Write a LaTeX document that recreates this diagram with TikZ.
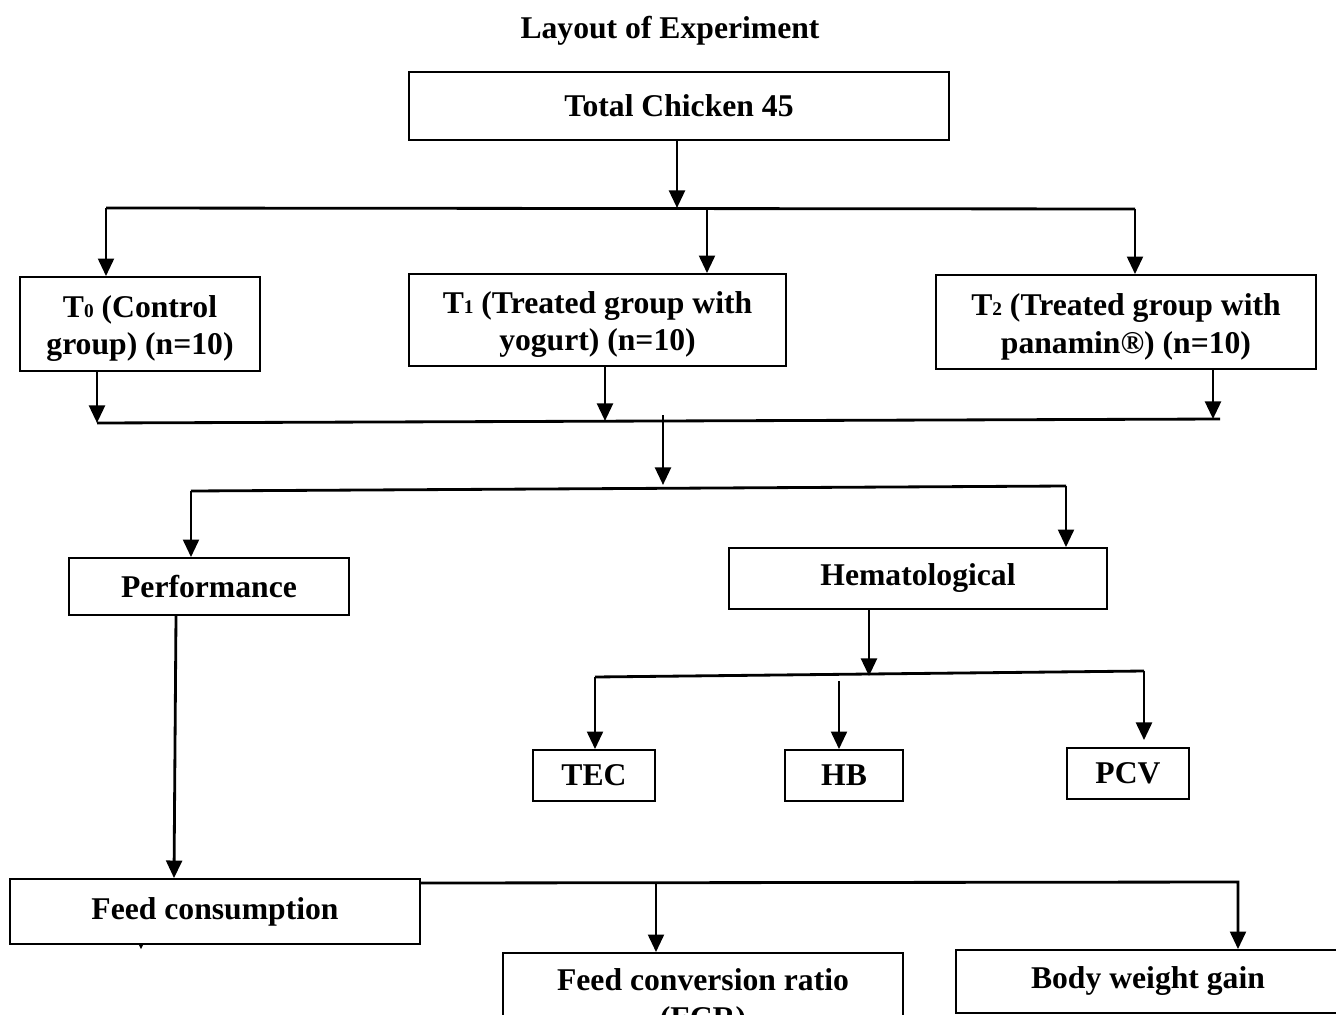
\documentclass[tikz,border=0pt]{standalone}
\usepackage{fontspec}
\setmainfont{Liberation Serif}
\usetikzlibrary{arrows.meta}
\newcommand{\sbs}[1]{{\fontsize{5.5}{6}\selectfont #1}}
\begin{document}
\begin{tikzpicture}[x=0.01cm,y=-0.01cm,
 txt/.style={inner sep=0pt,align=center,font=\fontsize{9}{10.6}\selectfont\bfseries},
 box/.style={txt,draw,line width=0.5pt},
 conn/.style={line width=0.8pt},
 arr/.style={conn,-{Triangle[length=5pt,width=4.5pt]}}]
\useasboundingbox (0,0) rectangle (1336,1015);
\clip (0,0) rectangle (1336,1015);

% title
\node[txt] (title) at (670,31) {Layout of Experiment};

% boxes
\node[box,minimum width=5.40cm,minimum height=0.68cm] (total) at (679,106) {Total Chicken 45};
\node[box,minimum width=2.40cm,minimum height=0.94cm] (t0) at (140,324) {\rule{0pt}{9pt}T\sbs{0} (Control\\group) (n=10)};
\node[box,minimum width=3.77cm,minimum height=0.92cm] (t1) at (597.5,320) {\rule{0pt}{9pt}T\sbs{1} (Treated group with\\yogurt) (n=10)};
\node[box,minimum width=3.80cm,minimum height=0.94cm] (t2) at (1126,322) {\rule{0pt}{9pt}T\sbs{2} (Treated group with\\panamin®) (n=10)};
\node[box,minimum width=2.80cm,minimum height=0.57cm] (perf) at (209,586.5) {Performance};
\node[box,minimum width=3.78cm,minimum height=0.61cm] (hem) at (918,578.5) {Hematological};
\node[box,minimum width=1.22cm,minimum height=0.51cm] (tec) at (594,775.5) {TEC};
\node[box,minimum width=1.18cm,minimum height=0.51cm] (hb) at (844,775.5) {HB};
\node[box,minimum width=1.22cm,minimum height=0.51cm] (pcv) at (1128,773.5) {PCV};
\node[box,minimum width=4.10cm,minimum height=0.65cm] (feed) at (215,911.5) {Feed consumption};
\node[box,minimum width=4.00cm,minimum height=0.98cm] (fcr) at (703,1002) {Feed conversion ratio\\(FCR)};
\node[box,minimum width=3.84cm,minimum height=0.63cm] (bwg) at (1148,981.5) {Body weight gain};

% junction coordinates
\coordinate (h1L) at (106,208);
\coordinate (h1M) at (677,208);
\coordinate (h1B) at (707,208);
\coordinate (h1R) at (1135,209);
\coordinate (h2L) at (97,423);
\coordinate (h2B) at (605,421);
\coordinate (h2C) at (1213,419);
\coordinate (h2R) at (1220,419);
\coordinate (h2M) at (663,415);
\coordinate (h2T) at (663,485);
\coordinate (h3L) at (191,491);
\coordinate (h3R) at (1066,486);
\coordinate (h4M) at (869,676);
\coordinate (h4L) at (595,677);
\coordinate (h4B) at (839,681);
\coordinate (h4R) at (1144,671);
\coordinate (h5M) at (656,883);
\coordinate (h5R) at (1238,882);

% level 1
\draw[arr] (677,0 |- total.south) -- (h1M);
\draw[conn] (h1L) -- (h1R);
\draw[arr] (h1L) -- (h1L |- t0.north);
\draw[arr] (h1B) -- (h1B |- t1.north);
\draw[arr] (h1R) -- (h1R |- t2.north);

% level 2
\draw[arr] (h2L |- t0.south) -- (h2L);
\draw[arr] (h2B |- t1.south) -- (h2B);
\draw[arr] (h2C |- t2.south) -- (h2C);
\draw[conn] (h2L) -- (h2R);
\draw[arr] (h2M) -- (h2T);

% level 3
\draw[conn] (h3L) -- (h3R);
\draw[arr] (h3L) -- (h3L |- perf.north);
\draw[arr] (h3R) -- (h3R |- hem.north);

% hematological branch
\draw[arr] (h4M |- hem.south) -- (h4M);
\draw[conn] (h4L) -- (h4R);
\draw[arr] (h4L) -- (h4L |- tec.north);
\draw[arr] (h4B) -- (h4B |- hb.north);
\draw[arr,shorten >=2pt] (h4R) -- (h4R |- pcv.north);

% performance branch
\draw[arr] (176,0 |- perf.south) -- (174,0 |- feed.north);
\draw[arr] (feed.east |- 0,883) -- (h5R) -- (h5R |- bwg.north);
\draw[arr] (h5M) -- (h5M |- fcr.north);
\fill (138.5,944) -- (143.5,944) -- (141,949) -- cycle;
\end{tikzpicture}
\end{document}
